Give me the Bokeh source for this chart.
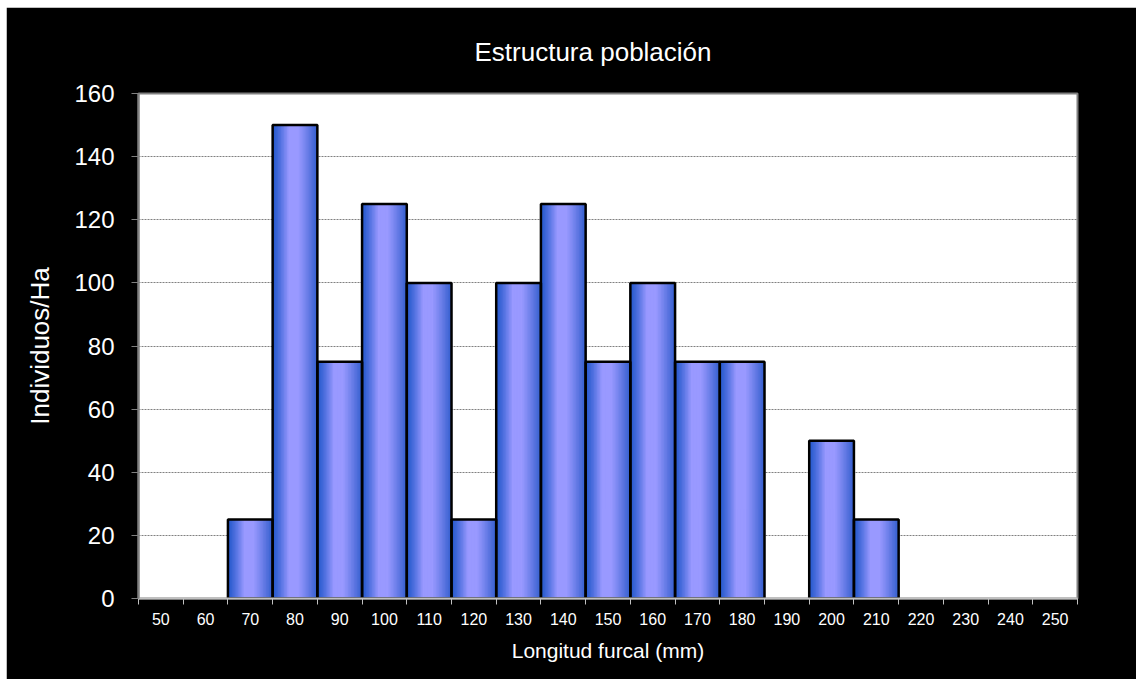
from bokeh.plotting import figure
from bokeh.models import ColumnDataSource, FixedTicker, Range1d, Spacer
from bokeh.layouts import column, row
from bokeh.transform import dodge
from bokeh.embed import file_html
from bokeh.resources import INLINE

# ---- data ----
lengths = [50, 60, 70, 80, 90, 100, 110, 120, 130, 140, 150, 160, 170, 180,
           190, 200, 210, 220, 230, 240, 250]
individuals = [0, 0, 25, 150, 75, 125, 100, 25, 100, 125, 75, 100, 75, 75,
               0, 50, 25, 0, 0, 0, 0]
y_ticks = [0, 20, 40, 60, 80, 100, 120, 140, 160]
title_text = "Estructura población"
x_title = "Longitud furcal (mm)"
y_title = "Individuos/Ha"

FONT = "Liberation Sans"
BIN = 10

p = figure(width=1130, height=672, output_backend="svg", toolbar_location=None,
           x_range=Range1d(45, 255), y_range=Range1d(0, 160),
           min_border_left=132, min_border_right=59, min_border_top=86,
           min_border_bottom=81)
p.border_fill_color = "black"
p.background_fill_color = "white"
p.outline_line_color = "#808080"
p.outline_line_width = 2

# title
p.title.text = title_text
p.title.align = "left"
p.title.offset = 336
p.title.text_color = "white"
p.title.text_font = FONT
p.title.text_font_size = "26px"
p.title.text_font_style = "normal"
p.title.standoff = 50
p.title.vertical_align = "top"

src = ColumnDataSource(dict(x=lengths, y=individuals))

# gradient bars (horizontal gradient emulated with thin slices)
N = 30
edge_l = (36, 88, 204)
edge_r = (48, 92, 204)
center = (153, 153, 255)
for i in range(N):
    t = (i + 0.5) / N
    if t < 0.38:
        f = (t / 0.38) ** 1.3
        e = edge_l
    elif t < 0.58:
        f = 1.0
        e = edge_l
    else:
        f = 1.0 - ((t - 0.58) / 0.42) ** 1.1 * 0.95
        e = edge_r
    col = tuple(int(round(e[k] + (center[k] - e[k]) * f)) for k in range(3))
    hexcol = "#%02x%02x%02x" % col
    off = -BIN / 2 + (i + 0.5) * BIN / N
    p.vbar(x=dodge("x", off, range=p.x_range), top="y", bottom=0,
           width=BIN / N * 1.8, source=src, fill_color=hexcol,
           line_color=None)

# outlines
nonzero = ColumnDataSource(dict(
    x=[l for l, v in zip(lengths, individuals) if v > 0],
    y=[v for v in individuals if v > 0]))
p.vbar(x="x", top="y", bottom=0, width=BIN, source=nonzero,
       fill_color=None, line_color="black", line_width=2.5)

# grid
p.xgrid.grid_line_color = None
p.ygrid.grid_line_color = "#808080"
p.ygrid.grid_line_dash = "2 1"
p.ygrid.grid_line_width = 1
p.ygrid.ticker = FixedTicker(ticks=y_ticks)

# y axis
ya = p.yaxis[0]
ya.ticker = FixedTicker(ticks=y_ticks)
ya.axis_label = y_title
ya.axis_label_text_color = "white"
ya.axis_label_text_font = FONT
ya.axis_label_text_font_size = "26px"
ya.axis_label_text_font_style = "normal"
ya.axis_label_standoff = 16
ya.major_label_text_color = "white"
ya.major_label_text_font = FONT
ya.major_label_text_font_size = "24px"
ya.major_label_standoff = 17
ya.axis_line_color = "#808080"
ya.axis_line_width = 2
ya.major_tick_line_color = "#808080"
ya.major_tick_out = 7
ya.major_tick_in = 0
ya.minor_tick_line_color = None

# x axis
xa = p.xaxis[0]
xa.ticker = FixedTicker(ticks=lengths,
                        minor_ticks=[l - BIN / 2 for l in lengths] + [lengths[-1] + BIN / 2])
xa.axis_label = x_title
xa.axis_label_text_color = "white"
xa.axis_label_text_font = FONT
xa.axis_label_text_font_size = "21px"
xa.axis_label_text_font_style = "normal"
xa.axis_label_standoff = 11
xa.major_label_text_color = "white"
xa.major_label_text_font = FONT
xa.major_label_text_font_size = "16px"
xa.major_label_standoff = 8
xa.major_tick_line_color = None
xa.major_tick_out = 0
xa.major_tick_in = 0
xa.minor_tick_line_color = "#c0c0c0"
xa.minor_tick_out = 6
xa.minor_tick_in = 0
xa.axis_line_color = "#c0c0c0"
xa.axis_line_width = 2

layout = column(Spacer(height=7), row(Spacer(width=6), p))
open("out.html", "w").write(file_html(layout, INLINE))
